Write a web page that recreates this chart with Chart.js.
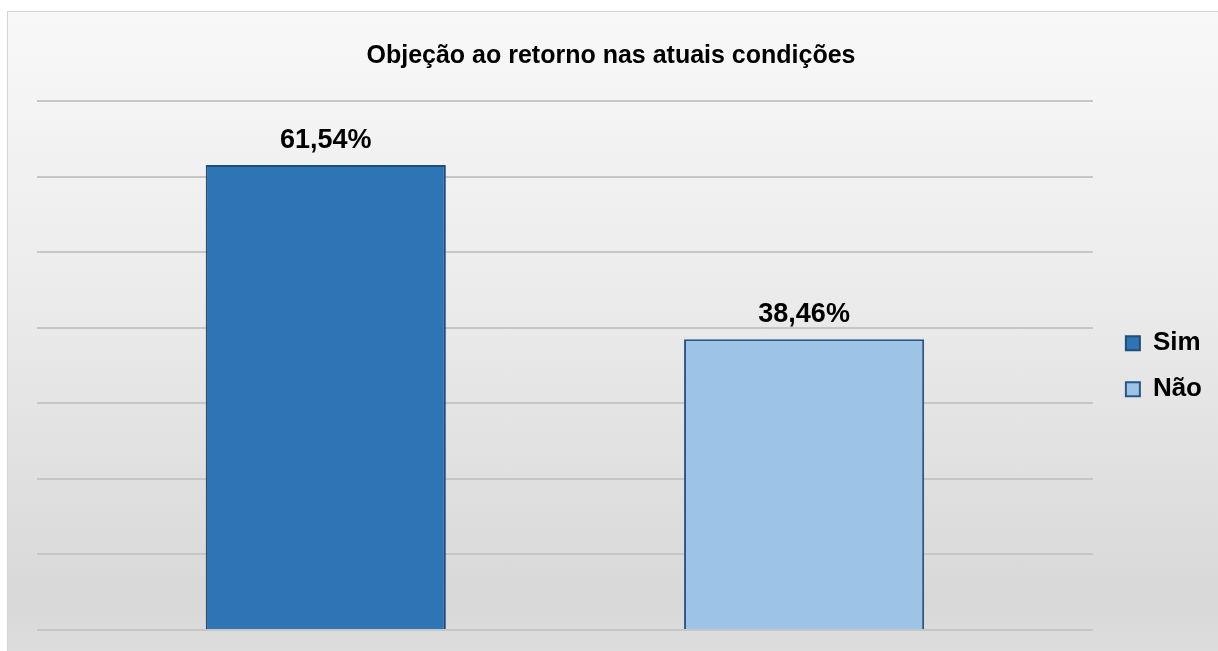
<!DOCTYPE html>
<html>
<head>
<meta charset="utf-8">
<script src="https://cdn.jsdelivr.net/npm/chart.js@4"></script>
<style>
  html, body { margin: 0; padding: 0; background: #fff; overflow: hidden; }
  #frame {
    position: absolute; left: 7px; top: 11px; width: 1240px; height: 670px;
    border: 1px solid #d4d4d4;
    background: linear-gradient(to bottom, #f8f8f8 0%, #ececec 40%, #d8d8d8 88%, #e0e0e0 100%);
  }
  #chart { position: absolute; left: 0; top: 0; }
</style>
</head>
<body>
<div id="frame"></div>
<canvas id="chart" width="1218" height="651"></canvas>
<script>
const title = 'Objeção ao retorno nas atuais condições';
const series = ['Sim', 'Não'];
const values = [61.54, 38.46];
const fills = ['#2e75b6', '#9dc3e6'];
const borders = ['#1f4e79', '#2a5686'];

const font = 'Liberation Sans, Arial, sans-serif';

const fmt = v => v.toFixed(2).replace('.', ',') + '%';

// value above each bar
const valueLabels = {
  id: 'valueLabels',
  afterDatasetsDraw(chart) {
    const c = chart.ctx;
    c.save();
    c.font = 'bold 27px ' + font;
    c.fillStyle = '#000';
    c.textAlign = 'center';
    c.textBaseline = 'alphabetic';
    chart.data.datasets.forEach((ds, i) => {
      chart.getDatasetMeta(i).data.forEach((bar, j) => {
        c.fillText(fmt(ds.data[j]), bar.x, bar.y - 17);
      });
    });
    c.restore();
  }
};

const ctx = document.getElementById('chart').getContext('2d');
new Chart(ctx, {
  type: 'bar',
  data: {
    labels: [''],
    datasets: series.map((s, i) => ({
      label: s,
      data: [values[i]],
      backgroundColor: fills[i],
      borderColor: borders[i],
      borderWidth: 2,
      categoryPercentage: 0.906,
      barPercentage: 0.502,
    })),
  },
  options: {
    responsive: false,
    animation: false,
    layout: { padding: { left: 10, right: 6, top: 0, bottom: 21 } },
    scales: {
      x: { display: false },
      y: {
        min: 0, max: 70,
        ticks: { display: false, stepSize: 10 },
        border: { display: false },
        grid: { color: '#c6c6c6', lineWidth: 2, drawTicks: false },
        afterFit: s => { s.width = 27; },
      },
      y2: {
        position: 'right',
        ticks: { display: false },
        border: { display: false },
        grid: { display: false, drawTicks: false },
        afterFit: s => { s.width = 13; },
      },
    },
    plugins: {
      tooltip: { enabled: false },
      title: {
        display: true,
        text: title,
        color: '#000',
        font: { family: font, size: 25, weight: 'bold' },
        padding: { top: 41, bottom: 30 },
      },
      legend: {
        position: 'right',
        title: { display: true, text: ' ', padding: { top: 44, bottom: 44 }, font: { size: 12 } },
        labels: {
          color: '#000',
          font: { family: font, size: 26, weight: 'bold' },
          boxWidth: 14,
          boxHeight: 14,
          padding: 20,
        },
      },
    },
  },
  plugins: [valueLabels],
});
</script>
</body>
</html>
